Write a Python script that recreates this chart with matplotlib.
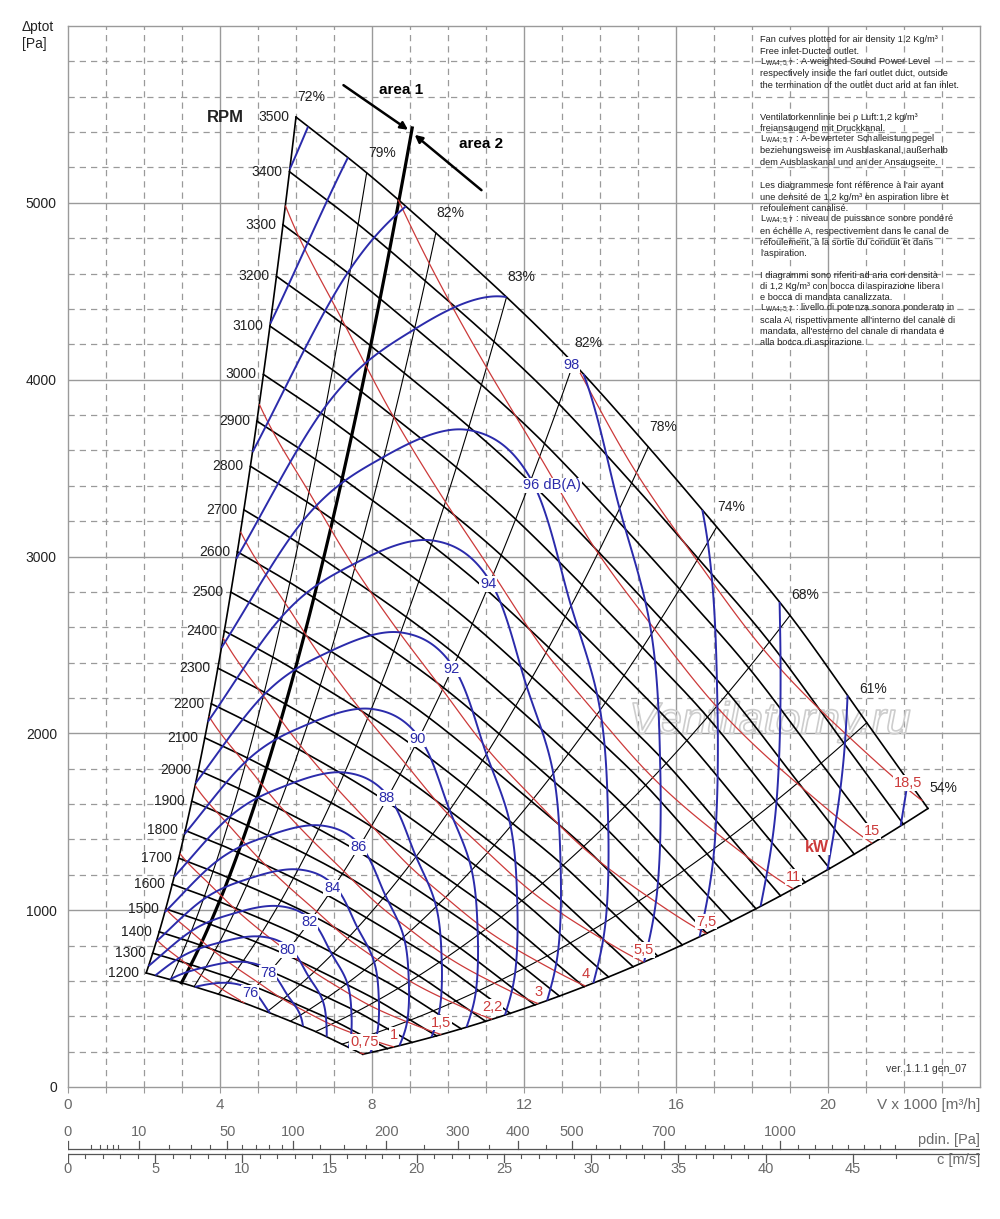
import numpy as np
import matplotlib
matplotlib.use("Agg")
import matplotlib.pyplot as plt
import matplotlib.patheffects as pe

plt.rcParams['font.family'] = ['Liberation Sans', 'DejaVu Sans']

# ------------------------------------------------------------------ data
rpm_values = [1200, 1300, 1400, 1500, 1600, 1700, 1800, 1900, 2000, 2100, 2200, 2300,
              2400, 2500, 2600, 2700, 2800, 2900, 3000, 3100, 3200, 3300, 3400, 3500]
ref_rpm = 3500
# operating points of the 3500 rpm curve on each efficiency line
eff_labels = [72, 79, 82, 83, 82, 78, 74, 68, 61, 54]                      # %
flow_ref = [6.00, 7.86, 9.68, 11.54, 13.30, 15.27, 17.07, 19.00, 21.02, 22.63]  # x1000 m3/h
ptot_ref = [5485, 5170, 4830, 4467, 4093, 3620, 3167, 2667, 2060, 1575]         # Pa
sound_ref = [104.6, 101.2, 99.3, 98.0, 97.9, 99.1, 100.3, 102.3, 104.6, 106.7]  # dB(A)
sound_rpm_exponent = 50.0
sound_levels = [76, 78, 80, 82, 84, 86, 88, 90, 92, 94, 96, 98, 100, 102, 104, 106]
sound_labels = {76: '76', 78: '78', 80: '80', 82: '82', 84: '84', 86: '86', 88: '88',
                90: '90', 92: '92', 94: '94', 96: '96 dB(A)', 98: '98'}
sound_label_line = 4          # labels sit on the second 82 % line
power_levels = [0.75, 1, 1.5, 2.2, 3, 4, 5.5, 7.5, 11, 15, 18.5]             # kW
power_labels = ['0,75', '1', '1,5', '2,2', '3', '4', '5,5', '7,5', '11', '15', '18,5']
area_flow_ref = 8.71          # area 1 / area 2 boundary at 3500 rpm
area_top_rpm = 3640
air_density = 1.2
outlet_area = 0.1275          # m2 (velocity scale)
pdin_major = [0, 10, 50, 100, 200, 300, 400, 500, 700, 1000]
pdin_minor = [1, 2, 3, 4, 5, 20, 30, 40, 60, 70, 80, 90, 125, 150, 175, 250, 350, 450, 550,
              600, 650, 750, 800, 850, 900, 950, 1050, 1100, 1150, 1200, 1250, 1300, 1350]
c_major = [0, 5, 10, 15, 20, 25, 30, 35, 40, 45]
c_minor = [v for v in range(0, 41) if v % 5] + [42.5, 47.5]

# ------------------------------------------------------------------ style / layout
BLUE = '#2b2bab'
RED = '#cc3a3a'
GRID = '#9a9a9a'
eff_label_offsets = [(15, 20)] * 8 + [(6, 34), (15, 20)]


def cr_spline(knots, s):
    k = np.asarray(knots, float)
    kp = np.concatenate([[2 * k[0] - k[1]], k, [2 * k[-1] - k[-2]]])
    i = np.clip(np.floor(s).astype(int), 0, len(k) - 2)
    t = s - i
    P0, P1, P2, P3 = kp[i], kp[i + 1], kp[i + 2], kp[i + 3]
    return 0.5 * (2 * P1 + (-P0 + P2) * t + (2 * P0 - 5 * P1 + 4 * P2 - P3) * t ** 2
                  + (-P0 + 3 * P1 - 3 * P2 + P3) * t ** 3)


s = np.linspace(0, len(eff_labels) - 1, 541)
V_s = cr_spline(flow_ref, s)
p_s = cr_spline(ptot_ref, s)
eta_s = cr_spline(eff_labels, s)
L_s = cr_spline(sound_ref, s)

r = np.linspace(rpm_values[0] / ref_rpm, 1.0, 301)
R = r[:, None]
X = V_s[None, :] * R
Y = p_s[None, :] * R ** 2
Zs = L_s[None, :] + sound_rpm_exponent * np.log10(R)
P_ref = V_s / 3.6 * p_s / (eta_s / 100.0) / 1000.0
Zp = P_ref[None, :] * R ** 3

# ------------------------------------------------------------------ figure
fig = plt.figure(figsize=(10, 12.19), dpi=100)
ax = fig.add_axes([0.068, 1 - 1087 / 1219, 0.912, 1061 / 1219])
ax.set_xlim(0, 24)
ax.set_ylim(0, 6000)

for v in range(1, 24):
    if v % 4 == 0:
        ax.axvline(v, color=GRID, lw=1.0, zorder=0)
    else:
        ax.axvline(v, color=GRID, lw=0.9, ls=(0, (5, 4)), zorder=0)
for v in range(200, 6000, 200):
    if v % 1000 == 0:
        ax.axhline(v, color=GRID, lw=1.0, zorder=0)
    else:
        ax.axhline(v, color=GRID, lw=0.9, ls=(0, (5, 4)), zorder=0)
for sp in ax.spines.values():
    sp.set_color(GRID)
    sp.set_linewidth(1.0)

ax.set_yticks([0, 1000, 2000, 3000, 4000, 5000])
ax.set_yticklabels(['0', '1000', '2000', '3000', '4000', '5000'], fontsize=10, color='#222')
ax.tick_params(axis='y', length=0, pad=8)
ax.set_xticks(range(0, 24))
ax.set_xticklabels([str(v) if v % 4 == 0 else '' for v in range(0, 24)],
                   fontsize=11, color='#6a6a6a')
ax.tick_params(axis='x', length=4, color=GRID, pad=4)

# watermark (behind the curves)
ax.text(0.770, 0.344, 'Ventilatorny.ru', transform=ax.transAxes, fontsize=32,
        style='italic', color=(1, 1, 1, 0), ha='center', va='center', zorder=1,
        path_effects=[pe.withStroke(linewidth=1.2, foreground='#cdcdcd')])

# efficiency lines (parabolas through the origin)
rr = np.linspace(rpm_values[0] / ref_rpm, 1.0, 100)
for i, (vq, pq) in enumerate(zip(flow_ref, ptot_ref)):
    edge = i in (0, len(flow_ref) - 1)
    ax.plot(vq * rr, pq * rr ** 2, color='black', lw=1.2 if edge else 0.8, zorder=2)
    ax.annotate(f'{eff_labels[i]}%', xy=(vq, pq), xytext=eff_label_offsets[i],
                textcoords='offset pixels', ha='center', va='center', fontsize=10,
                color='#222', zorder=9)

# fan curves
for n in rpm_values:
    k = n / ref_rpm
    ax.plot(V_s * k, p_s * k ** 2, color='black', lw=1.2, zorder=2)
    ax.annotate(str(n), xy=(V_s[0] * k, p_s[0] * k ** 2), xytext=(-7, 0),
                textcoords='offset pixels', ha='right', va='center', fontsize=10, color='#222')
ax.annotate('RPM', xy=(flow_ref[0], ptot_ref[0]), xytext=(-52, 0),
            textcoords='offset pixels', ha='right', va='center', fontsize=12,
            fontweight='bold', color='#222')

# area 1 / area 2 boundary
pa = np.interp(area_flow_ref, V_s, p_s)
ra = np.linspace(rpm_values[0] / ref_rpm, area_top_rpm / ref_rpm, 100)
ax.plot(area_flow_ref * ra, pa * ra ** 2, color='black', lw=2.3, zorder=3)
rt = (area_top_rpm - 8) / ref_rpm
T = (area_flow_ref * rt, pa * rt ** 2)
arrow = dict(arrowstyle='-|>', lw=1.8, color='black', mutation_scale=11, shrinkA=0, shrinkB=3)
ax.annotate('', xy=T, xytext=(-68, 47), textcoords='offset pixels', arrowprops=arrow, zorder=4)
ax.annotate('', xy=T, xytext=(70, -58), textcoords='offset pixels', arrowprops=arrow, zorder=4)
ax.annotate('area 1', xy=T, xytext=(-10, 42), textcoords='offset pixels', ha='center',
            va='center', fontsize=11, fontweight='bold')
ax.annotate('area 2', xy=T, xytext=(70, -12), textcoords='offset pixels', ha='center',
            va='center', fontsize=11, fontweight='bold')

# power (kW) curves
ax.contour(X, Y, Zp, levels=power_levels, colors=RED, linewidths=0.9, zorder=3)
P_end = P_ref[-1]
for lev, lab in zip(power_levels, power_labels):
    if lev <= P_end:
        k = (lev / P_end) ** (1 / 3)
        pt = (V_s[-1] * k, p_s[-1] * k ** 2)
        off = (0, 12)
    else:
        idx = np.where(P_ref >= lev)[0][-1]
        pt = (V_s[idx], p_s[idx])
        off = (-14, 17)
    ax.annotate(lab, xy=pt, xytext=off, textcoords='offset pixels', ha='center',
                va='center', fontsize=10.5, color=RED, zorder=7,
                bbox=dict(facecolor='white', edgecolor='none', pad=0.6))
kw_k = 3050 / ref_rpm
ax.annotate('kW', xy=(V_s[-1] * kw_k, p_s[-1] * kw_k ** 2), xytext=(0, 28),
            textcoords='offset pixels', ha='center', va='center', fontsize=11.5,
            fontweight='bold', color=RED, zorder=7,
            bbox=dict(facecolor='white', edgecolor='none', pad=0.4))

# sound power (dB(A)) curves
ax.contour(X, Y, Zs, levels=sound_levels, colors=BLUE, linewidths=1.4, zorder=4)
j = np.argmin(np.abs(s - sound_label_line))
for lev, lab in sound_labels.items():
    k = min(1.0, 10 ** ((lev - L_s[j]) / sound_rpm_exponent))
    pt = (V_s[j] * k, p_s[j] * k ** 2)
    if ' ' in lab:
        ax.annotate(lab, xy=pt, xytext=(-8, -6), textcoords='offset pixels', ha='left',
                    va='center', fontsize=10.5, color=BLUE, zorder=7,
                    bbox=dict(facecolor='white', edgecolor='none', pad=0.6))
    else:
        ax.annotate(lab, xy=pt, xytext=(-2, -2), textcoords='offset pixels', ha='center',
                    va='center', fontsize=10.5, color=BLUE, zorder=7,
                    bbox=dict(facecolor='white', edgecolor='none', pad=0.6))

ax.text(0.985, 0.012, 'ver. 1.1.1 gen_07', transform=ax.transAxes, fontsize=7.5,
        ha='right', va='bottom', color='#333')

# axis captions
fig.text(0.022, 1 - 27 / 1219, 'Δptot', fontsize=10, ha='left', va='center', color='#222')
fig.text(0.022, 1 - 44 / 1219, '[Pa]', fontsize=10, ha='left', va='center', color='#222')
fig.text(0.980, 1 - 1105 / 1219, 'V x 1000 [m³/h]', fontsize=11, ha='right', va='center',
         color='#6a6a6a')

# explanatory text block
blocks = [
    (40, ['Fan curves plotted for air density 1,2 Kg/m³',
          'Free inlet-Ducted outlet.',
          r'L$_{\mathregular{WA4;5;7}}$ : A-weighted Sound Power Level',
          'respectively inside the fan outlet duct, outside',
          'the termination of the outlet duct and at fan inlet.']),
    (117, ['Ventilatorkennlinie bei ρ Luft:1,2 kg/m³',
           'freiansaugend mit Druckkanal.',
           r'L$_{\mathregular{WA4;5;7}}$ : A-bewerteter Schalleistungpegel',
           'beziehungsweise im Ausblaskanal, außerhalb',
           'dem Ausblaskanal und an der Ansaugseite.']),
    (186, ['Les diagrammese font référence à l\'air ayant',
           'une densité de 1,2 kg/m³ en aspiration libre et',
           'refoulement canalisé.',
           r'L$_{\mathregular{WA4;5;7}}$ : niveau de puissance sonore pondéré',
           'en échelle A, respectivement dans le canal de',
           'réfoulement, à la sortie du conduit et dans',
           'l\'aspiration.']),
    (275, ['I diagrammi sono riferiti ad aria con densità',
           'di 1,2 Kg/m³ con bocca di aspirazione libera',
           'e bocca di mandata canalizzata.',
           r'L$_{\mathregular{WA4;5;7}}$ : livello di potenza sonora ponderato in',
           'scala A, rispettivamente all\'interno del canale di',
           'mandata, all\'esterno del canale di mandata e',
           'alla bocca di aspirazione.']),
]
for y0, lines in blocks:
    for i, line in enumerate(lines):
        fig.text(0.760, 1 - (y0 + i * 11.3) / 1219, line, fontsize=6.7, ha='left',
                 va='center', color='#222')

# ------------------------------------------------------------------ velocity / dynamic pressure scales
c_max = 24 / 3.6 / outlet_area
ax2 = fig.add_axes([0.068, 1 - 1185 / 1219, 0.912, 70 / 1219])
ax2.set_xlim(0, c_max)
ax2.set_ylim(1185, 1115)
ax2.axis('off')
SC = '#555555'
ax2.plot([0, c_max], [1149, 1149], color=SC, lw=0.9)
ax2.plot([0, c_max], [1154, 1154], color=SC, lw=0.9)
for v in pdin_major:
    c = np.sqrt(2 * v / air_density)
    ax2.plot([c, c], [1149, 1141], color=SC, lw=0.9)
    ax2.text(c, 1132, str(v), ha='center', va='center', fontsize=10.5, color='#6a6a6a')
for v in pdin_minor:
    c = np.sqrt(2 * v / air_density)
    ax2.plot([c, c], [1149, 1145], color=SC, lw=0.8)
for v in c_major:
    ax2.plot([v, v], [1154, 1162], color=SC, lw=0.9)
    ax2.text(v, 1169, str(v), ha='center', va='center', fontsize=10.5, color='#6a6a6a')
for v in c_minor:
    ax2.plot([v, v], [1154, 1158], color=SC, lw=0.8)
ax2.text(c_max, 1140, 'pdin. [Pa]', ha='right', va='center', fontsize=10.5, color='#6a6a6a')
ax2.text(c_max, 1160, 'c [m/s]', ha='right', va='center', fontsize=10.5, color='#6a6a6a')

fig.savefig('out.png', dpi=100, facecolor='white')
